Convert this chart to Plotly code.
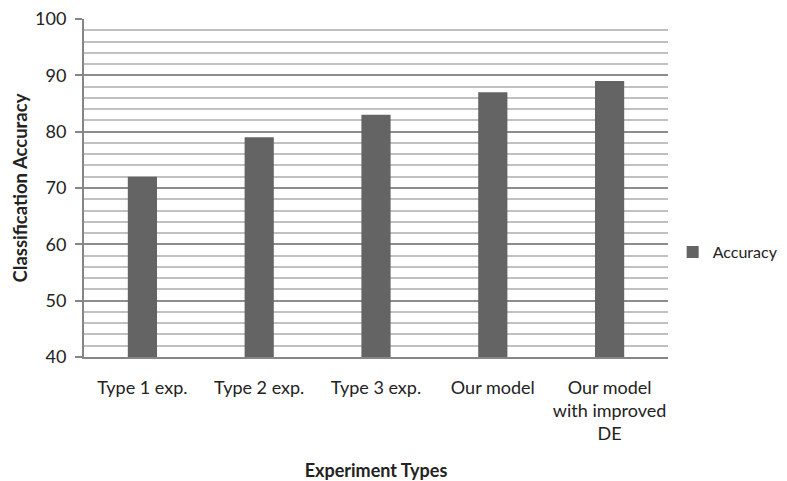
import plotly.graph_objects as go

categories = ["Type 1 exp.", "Type 2 exp.", "Type 3 exp.", "Our model", "Our model<br>with improved<br>DE"]
accuracy = [72, 79, 83, 87, 89]
series_name = "Accuracy"

fig = go.Figure()
fig.add_trace(go.Bar(x=categories, y=accuracy, name=series_name,
                     marker=dict(color="#646464", line=dict(width=0)),
                     showlegend=True))

font_family = "Lato, 'Open Sans', sans-serif"
# page body has an 8px default margin, so the figure is sized to 779x473
fig.update_layout(
    width=779, height=473,
    margin=dict(l=76, r=119, t=11, b=124, autoexpand=False),
    plot_bgcolor="white", paper_bgcolor="white",
    bargap=0.75,
    font=dict(family=font_family, size=18, color="#222222"),
    legend=dict(x=1.008, y=0.31, xanchor="left", yanchor="middle",
                font=dict(size=16, color="#222222"), itemwidth=30),
    xaxis=dict(
        automargin=False,
        showline=True, linecolor="#868686", linewidth=2,
        ticks="", tickfont=dict(size=18), ticklabelstandoff=13,
        title=dict(text="<b>Experiment Types</b>", font=dict(size=18), standoff=22),
    ),
    yaxis=dict(
        automargin=False,
        range=[40, 100], dtick=10, tick0=40,
        showline=True, linecolor="#868686", linewidth=2,
        ticks="outside", ticklen=7, tickcolor="#868686", tickwidth=1.5,
        ticklabelstandoff=5, ticklabeloverflow="allow",
        showgrid=True, gridcolor="#8c8c8c", gridwidth=1.5,
        minor=dict(dtick=2, showgrid=True, gridcolor="#c0c0c0", gridwidth=1.5),
        tickfont=dict(size=18),
        title=dict(text="<b>Classification Accuracy</b>", font=dict(size=18.5), standoff=3),
        zeroline=False,
    ),
)

fig.write_html("out.html")
